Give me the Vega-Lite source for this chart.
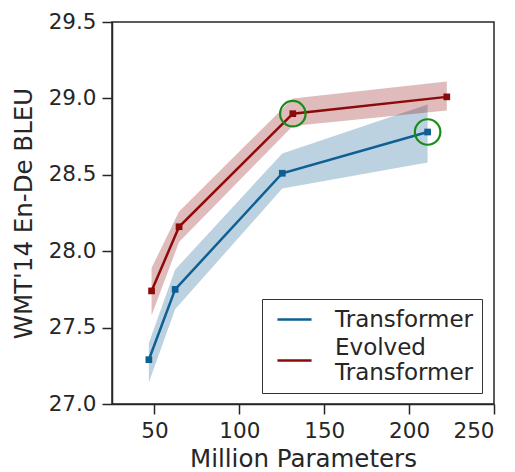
{
  "$schema": "https://vega.github.io/schema/vega-lite/v6.json",
  "width": 382,
  "height": 382,
  "autosize": {"type": "none"},
  "padding": {"left": 112, "top": 22, "right": 21, "bottom": 68},
  "background": "white",
  "config": {
    "font": "DejaVu Sans",
    "view": {"stroke": "#262626", "strokeWidth": 1.5},
    "axis": {
      "grid": false,
      "domainColor": "#262626",
      "domainWidth": 1.5,
      "tickColor": "#262626",
      "tickWidth": 1.5,
      "tickSize": 10,
      "labelFontSize": 21.5,
      "labelColor": "#262626",
      "labelPadding": 6,
      "titleFontSize": 24.5,
      "titleFontWeight": "normal",
      "titleColor": "#262626"
    }
  },
  "datasets": {
    "runs": [
      {"series": "Transformer", "params": 46.7, "bleu": 27.29, "lo": 27.14, "hi": 27.40},
      {"series": "Transformer", "params": 62.2, "bleu": 27.75, "lo": 27.62, "hi": 27.88},
      {"series": "Transformer", "params": 125.3, "bleu": 28.51, "lo": 28.41, "hi": 28.64},
      {"series": "Transformer", "params": 210.9, "bleu": 28.78, "lo": 28.58, "hi": 28.96},
      {"series": "Evolved Transformer", "params": 48.3, "bleu": 27.74, "lo": 27.58, "hi": 27.89},
      {"series": "Evolved Transformer", "params": 64.5, "bleu": 28.16, "lo": 28.06, "hi": 28.26},
      {"series": "Evolved Transformer", "params": 131.5, "bleu": 28.90, "lo": 28.82, "hi": 29.00},
      {"series": "Evolved Transformer", "params": 222.2, "bleu": 29.01, "lo": 28.92, "hi": 29.11}
    ],
    "highlight": [
      {"params": 131.5, "bleu": 28.90},
      {"params": 210.9, "bleu": 28.78}
    ]
  },
  "layer": [
    {
      "data": {"name": "runs"},
      "mark": {"type": "area", "fillOpacity": 0.28},
      "encoding": {
        "x": {"field": "params", "type": "quantitative"},
        "y": {"field": "lo", "type": "quantitative"},
        "y2": {"field": "hi"},
        "color": {"field": "series", "type": "nominal"},
        "detail": {"field": "series"}
      }
    },
    {
      "data": {"name": "runs"},
      "mark": {"type": "line", "strokeWidth": 2.5, "point": {"shape": "square", "size": 45, "filled": true}},
      "encoding": {
        "x": {
          "field": "params", "type": "quantitative",
          "scale": {"domain": [25, 250], "nice": false, "zero": false},
          "axis": {"values": [50, 100, 150, 200, 250], "title": "Million Parameters", "titlePadding": 6}
        },
        "y": {
          "field": "bleu", "type": "quantitative",
          "scale": {"domain": [27, 29.5], "nice": false, "zero": false},
          "axis": {"values": [27, 27.5, 28, 28.5, 29, 29.5], "format": ".1f", "title": "WMT'14 En-De BLEU", "titlePadding": 12}
        },
        "color": {
          "field": "series", "type": "nominal",
          "scale": {"domain": ["Transformer", "Evolved Transformer"], "range": ["#0e5f93", "#8b0a0a"]},
          "legend": {
            "title": null,
            "orient": "none",
            "legendX": 150,
            "legendY": 277,
            "symbolType": "M-1.55,0H1.55",
            "symbolSize": 484,
            "symbolStrokeWidth": 2.5,
            "symbolOpacity": 1,
            "symbolOffset": 12,
            "labelFontSize": 23,
            "labelLineHeight": 25,
            "labelColor": "#262626",
            "labelOffset": 28,
            "labelExpr": "datum.label == 'Evolved Transformer' ? ['Evolved', 'Transformer'] : datum.label",
            "rowPadding": 4,
            "padding": 8,
            "strokeColor": "#333333",
            "fillColor": "white",
            "cornerRadius": 0,
            "encode": {
              "labels": {
                "update": {
                  "dy": {"signal": "datum.value === 'Evolved Transformer' ? -13 : 0"}
                }
              }
            }
          }
        }
      }
    },
    {
      "data": {"name": "highlight"},
      "mark": {"type": "point", "shape": "circle", "size": 650, "filled": false, "stroke": "#1a8a1a", "strokeWidth": 2.2, "opacity": 1},
      "encoding": {
        "x": {"field": "params", "type": "quantitative"},
        "y": {"field": "bleu", "type": "quantitative"}
      }
    }
  ]
}
